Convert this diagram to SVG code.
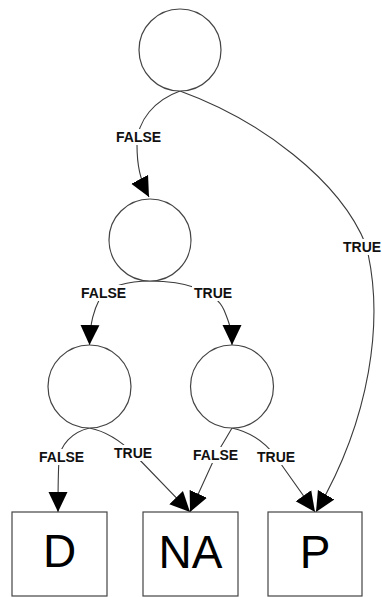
<svg xmlns="http://www.w3.org/2000/svg" width="382" height="597" viewBox="0 0 382 597">
<style>
.node{fill:#fff;stroke:#444;stroke-width:1.2}
.edge{fill:none;stroke:#3a3a3a;stroke-width:1.1;marker-end:url(#arr)}
.lbl{font-family:"Liberation Sans",Arial,sans-serif;font-weight:bold;font-size:14px;fill:#111}
.lbg{fill:#fff}
.big{font-family:"Liberation Sans",Arial,sans-serif;font-size:46px;fill:#000;text-anchor:middle}
</style>
<defs>
<marker id="arr" markerUnits="userSpaceOnUse" viewBox="0 0 20 20" markerWidth="20" markerHeight="20" refX="20" refY="10" orient="auto">
<path d="M0,0.5 L20,10 L0,19.5 Z" fill="#000"/>
</marker>
</defs>
<rect width="382" height="597" fill="#fff"/>
<g id="connectors">
<path class="edge" d="M180,91 C155,100 137,120 137,145 C137,165 140,180 149,197"/>
<path class="edge" d="M180,91 C260,120 340,180 366,245 C385,320 370,420 316,512"/>
<path class="edge" d="M150,281 C130,281 106,286 100,298 C94,310 90,322 89.5,345"/>
<path class="edge" d="M150,281 C185,281 215,290 224,310 C229,322 232,330 232,345"/>
<path class="edge" d="M89.5,428 C72,432 60,445 59,460 C58,475 58,490 58,512"/>
<path class="edge" d="M89.5,428 C110,432 125,445 135,455 L190,512"/>
<path class="edge" d="M232,428 C228,435 222,445 216,455 L190,512"/>
<path class="edge" d="M232,428 C250,432 265,442 276,457 L315,512"/>
</g>
<g id="labels">
<rect class="lbg" x="114" y="129" width="48" height="16"/>
<text class="lbl" x="116" y="142">FALSE</text>
<rect class="lbg" x="342" y="239" width="40" height="16"/>
<text class="lbl" x="343" y="252">TRUE</text>
<rect class="lbg" x="79" y="285" width="49" height="16"/>
<text class="lbl" x="81" y="298">FALSE</text>
<rect class="lbg" x="192" y="285" width="42" height="16"/>
<text class="lbl" x="194" y="298">TRUE</text>
<rect class="lbg" x="37" y="449" width="49" height="16"/>
<text class="lbl" x="39" y="462">FALSE</text>
<rect class="lbg" x="112" y="445" width="41" height="16"/>
<text class="lbl" x="114" y="458">TRUE</text>
<rect class="lbg" x="191" y="447" width="50" height="16"/>
<text class="lbl" x="193" y="460">FALSE</text>
<rect class="lbg" x="255" y="449" width="42" height="16"/>
<text class="lbl" x="257" y="462">TRUE</text>
</g>
<g id="n1"><circle class="node" cx="180" cy="50" r="41"/></g>
<g id="n2"><circle class="node" cx="150" cy="240" r="41"/></g>
<g id="n3"><circle class="node" cx="89.5" cy="386.5" r="41.5"/></g>
<g id="n4"><circle class="node" cx="232" cy="386.5" r="41.5"/></g>
<g id="D"><rect class="node" x="12" y="512" width="95" height="84"/><text class="big" x="59.5" y="567">D</text></g>
<g id="NA"><rect class="node" x="143" y="512" width="95" height="84"/><text class="big" x="190.5" y="568">NA</text></g>
<g id="P"><rect class="node" x="268" y="512" width="94" height="84"/><text class="big" x="315" y="568">P</text></g>
</svg>
